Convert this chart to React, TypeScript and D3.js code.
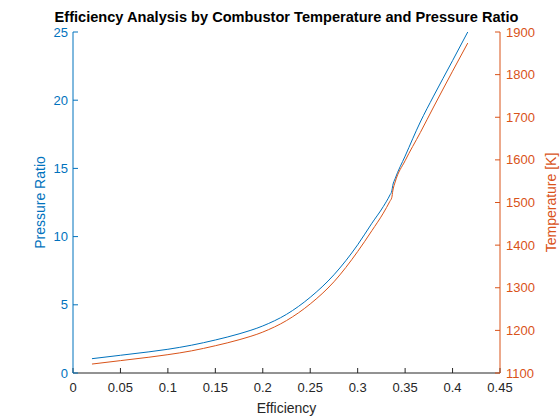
import * as d3 from 'd3';

// Efficiency samples (shared by both curves)
const efficiency = [0.02, 0.05, 0.08, 0.10, 0.125, 0.15, 0.175, 0.20, 0.225, 0.25, 0.275, 0.30, 0.315, 0.327, 0.334, 0.336, 0.337, 0.3395, 0.35, 0.366, 0.38, 0.40, 0.416];
const pressureRatio = [1.05, 1.30, 1.55, 1.74, 2.04, 2.42, 2.87, 3.45, 4.30, 5.55, 7.2, 9.40, 10.98, 12.2, 13.05, 13.35, 13.75, 14.25, 15.9, 18.4, 20.3, 22.9, 25.0];
const temperature = [1121, 1129, 1137, 1143, 1152, 1164, 1178, 1196, 1223, 1262, 1314, 1385, 1434, 1475, 1503, 1512, 1527, 1548, 1598, 1664, 1724, 1808, 1874];

const xTicks = [0, 0.05, 0.1, 0.15, 0.2, 0.25, 0.3, 0.35, 0.4, 0.45];
const prTicks = [0, 5, 10, 15, 20, 25];
const tempTicks = [1100, 1200, 1300, 1400, 1500, 1600, 1700, 1800, 1900];

const BLUE = '#0072BD';
const ORANGE = '#D95319';
const AXIS = '#262626';
const FONT = 'Liberation Sans, Arial, Helvetica, sans-serif';

export default function App() {
  const width = 560;
  const height = 420;
  const margin = { top: 32, right: 60, bottom: 47, left: 73 };
  const x0 = margin.left;
  const x1 = width - margin.right;
  const y0 = height - margin.bottom;
  const y1 = margin.top;

  const x = d3.scaleLinear().domain([0, 0.45]).range([x0, x1]);
  const yL = d3.scaleLinear().domain([0, 25]).range([y0, y1]);
  const yR = d3.scaleLinear().domain([1100, 1900]).range([y0, y1]);

  const prLine = d3.line<number>()
    .x((_, i) => x(efficiency[i]))
    .y((d) => yL(d))
    .curve(d3.curveMonotoneX);
  const tLine = d3.line<number>()
    .x((_, i) => x(efficiency[i]))
    .y((d) => yR(d))
    .curve(d3.curveMonotoneX);

  const tick = 5;
  const fmt = (v: number) => String(+v.toFixed(2));

  return (
    <div style={{ position: 'absolute', left: 0, top: 0 }}>
      <svg width={width} height={height} style={{ display: 'block', background: '#fff' }} fontFamily={FONT}>
        {/* data */}
        <path d={prLine(pressureRatio) || ''} fill="none" stroke={BLUE} strokeWidth={1} />
        <path d={tLine(temperature) || ''} fill="none" stroke={ORANGE} strokeWidth={1} />

        {/* x axis */}
        <line x1={x0} x2={x1} y1={y0} y2={y0} stroke={AXIS} strokeWidth={1} />
        {xTicks.map((t) => (
          <g key={t}>
            <line x1={x(t)} x2={x(t)} y1={y0} y2={y0 - tick} stroke={AXIS} />
            <text x={x(t)} y={y0 + 19} textAnchor="middle" fontSize={13} fill={AXIS}>{fmt(t)}</text>
          </g>
        ))}
        <text x={(x0 + x1) / 2} y={y0 + 40} textAnchor="middle" fontSize={14} fill={AXIS}>Efficiency</text>

        {/* left axis */}
        <line x1={x0} x2={x0} y1={y0} y2={y1} stroke={BLUE} strokeWidth={1} />
        {prTicks.map((t) => (
          <g key={t}>
            <line x1={x0} x2={x0 + tick} y1={yL(t)} y2={yL(t)} stroke={BLUE} />
            <text x={x0 - 5} y={yL(t)} dy="0.35em" textAnchor="end" fontSize={13} fill={BLUE}>{t}</text>
          </g>
        ))}
        <text transform={`translate(45,${(y0 + y1) / 2}) rotate(-90)`} textAnchor="middle" fontSize={14} fill={BLUE}>Pressure Ratio</text>

        {/* right axis */}
        <line x1={x1} x2={x1} y1={y0} y2={y1} stroke={ORANGE} strokeWidth={1} />
        {tempTicks.map((t) => (
          <g key={t}>
            <line x1={x1} x2={x1 - tick} y1={yR(t)} y2={yR(t)} stroke={ORANGE} />
            <text x={x1 + 6} y={yR(t)} dy="0.35em" textAnchor="start" fontSize={13} fill={ORANGE}>{t}</text>
          </g>
        ))}
        <text transform={`translate(556,${(y0 + y1) / 2}) rotate(-90)`} textAnchor="middle" fontSize={14} fill={ORANGE}>Temperature [K]</text>

        {/* title */}
        <text x={(x0 + x1) / 2} y={22} textAnchor="middle" fontSize={14.6} fontWeight="bold" fill="#000">
          Efficiency Analysis by Combustor Temperature and Pressure Ratio
        </text>
      </svg>
    </div>
  );
}
